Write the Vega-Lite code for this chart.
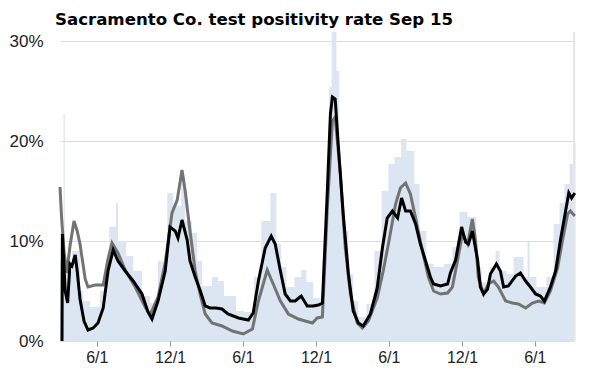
{
  "$schema": "https://vega.github.io/schema/vega-lite/v6.json",
  "autosize": {"type": "none"},
  "width": 514,
  "height": 300,
  "padding": {"left": 60, "top": 41, "right": 18, "bottom": 34},
  "background": "white",
  "title": {"text": "Sacramento Co. test positivity rate Sep 15", "anchor": "start", "frame": "group", "font": "DejaVu Sans", "fontSize": 16.6, "fontWeight": "bold", "color": "#000", "offset": 2, "dx": -5},
  "config": {"view": {"stroke": null}, "axis": {"labelFont": "Liberation Sans", "labelColor": "#222"}},
  "datasets": {
    "blue": [
      {"date": "2020-03-01", "v": 8}, {"date": "2020-03-10", "v": 22.7}, {"date": "2020-03-13", "v": 7}, {"date": "2020-03-31", "v": 9},
      {"date": "2020-04-20", "v": 5}, {"date": "2020-04-28", "v": 4}, {"date": "2020-05-15", "v": 3.4}, {"date": "2020-06-09", "v": 5},
      {"date": "2020-06-22", "v": 7.8}, {"date": "2020-07-02", "v": 11.4}, {"date": "2020-07-19", "v": 13.8}, {"date": "2020-07-24", "v": 10},
      {"date": "2020-08-13", "v": 8.5}, {"date": "2020-08-31", "v": 7}, {"date": "2020-09-22", "v": 4.5}, {"date": "2020-10-12", "v": 3.8},
      {"date": "2020-11-01", "v": 8}, {"date": "2020-11-24", "v": 14.8}, {"date": "2020-12-09", "v": 13.5}, {"date": "2020-12-29", "v": 16.4},
      {"date": "2021-01-08", "v": 12}, {"date": "2021-01-25", "v": 10.8}, {"date": "2021-02-07", "v": 8}, {"date": "2021-02-19", "v": 5.5},
      {"date": "2021-03-16", "v": 6.4}, {"date": "2021-03-31", "v": 6}, {"date": "2021-04-15", "v": 4.5}, {"date": "2021-05-15", "v": 3},
      {"date": "2021-06-04", "v": 2.9}, {"date": "2021-06-29", "v": 6.4}, {"date": "2021-07-17", "v": 12}, {"date": "2021-08-09", "v": 14.8},
      {"date": "2021-08-24", "v": 9.7}, {"date": "2021-09-05", "v": 7.4}, {"date": "2021-09-18", "v": 5.4}, {"date": "2021-10-08", "v": 6.4},
      {"date": "2021-10-25", "v": 7.1}, {"date": "2021-11-07", "v": 5.9}, {"date": "2021-11-24", "v": 4.3}, {"date": "2021-12-17", "v": 8},
      {"date": "2021-12-24", "v": 13.3}, {"date": "2022-01-03", "v": 25.4}, {"date": "2022-01-09", "v": 30.9}, {"date": "2022-01-21", "v": 27},
      {"date": "2022-01-28", "v": 16}, {"date": "2022-02-05", "v": 11}, {"date": "2022-02-20", "v": 6.7}, {"date": "2022-03-04", "v": 4},
      {"date": "2022-03-17", "v": 2.4}, {"date": "2022-04-06", "v": 3.7}, {"date": "2022-04-26", "v": 9}, {"date": "2022-05-14", "v": 15},
      {"date": "2022-05-31", "v": 17.7}, {"date": "2022-06-15", "v": 18.4}, {"date": "2022-07-02", "v": 20.2}, {"date": "2022-07-15", "v": 19},
      {"date": "2022-08-04", "v": 15.7}, {"date": "2022-08-17", "v": 11}, {"date": "2022-09-03", "v": 7.7}, {"date": "2022-09-21", "v": 7.4},
      {"date": "2022-10-16", "v": 7.7}, {"date": "2022-11-07", "v": 9.4}, {"date": "2022-11-25", "v": 12.9}, {"date": "2022-12-15", "v": 12.4},
      {"date": "2023-01-06", "v": 7.4}, {"date": "2023-01-19", "v": 5.9}, {"date": "2023-02-08", "v": 7.4}, {"date": "2023-02-23", "v": 9},
      {"date": "2023-03-05", "v": 7}, {"date": "2023-03-22", "v": 6.7}, {"date": "2023-04-09", "v": 8.4}, {"date": "2023-05-04", "v": 6.4},
      {"date": "2023-05-14", "v": 10}, {"date": "2023-05-19", "v": 6.4}, {"date": "2023-06-05", "v": 5.4}, {"date": "2023-06-30", "v": 6.4},
      {"date": "2023-07-18", "v": 11.7}, {"date": "2023-08-02", "v": 13.8}, {"date": "2023-08-14", "v": 15.7}, {"date": "2023-08-27", "v": 17.7},
      {"date": "2023-09-06", "v": 19.8}, {"date": "2023-09-11", "v": 19.8}
    ],
    "gray": [
      {"date": "2020-03-01", "v": 15.4}, {"date": "2020-03-05", "v": 12.3}, {"date": "2020-03-11", "v": 9}, {"date": "2020-03-18", "v": 6.8},
      {"date": "2020-03-26", "v": 9.5}, {"date": "2020-04-05", "v": 12}, {"date": "2020-04-13", "v": 11}, {"date": "2020-04-20", "v": 9.7},
      {"date": "2020-05-03", "v": 6.2}, {"date": "2020-05-10", "v": 5.4}, {"date": "2020-05-28", "v": 5.6}, {"date": "2020-06-17", "v": 5.6},
      {"date": "2020-06-29", "v": 8.2}, {"date": "2020-07-09", "v": 9.8}, {"date": "2020-07-24", "v": 8.8}, {"date": "2020-08-11", "v": 7.1},
      {"date": "2020-09-05", "v": 5.4}, {"date": "2020-09-30", "v": 3.4}, {"date": "2020-10-12", "v": 2.6}, {"date": "2020-11-01", "v": 4.4},
      {"date": "2020-11-19", "v": 7.8}, {"date": "2020-12-06", "v": 12.8}, {"date": "2020-12-19", "v": 14.1}, {"date": "2020-12-31", "v": 17.1},
      {"date": "2021-01-08", "v": 15}, {"date": "2021-01-20", "v": 11}, {"date": "2021-02-02", "v": 7}, {"date": "2021-02-14", "v": 4.7},
      {"date": "2021-02-27", "v": 2.7}, {"date": "2021-03-16", "v": 1.8}, {"date": "2021-04-10", "v": 1.5}, {"date": "2021-05-06", "v": 1},
      {"date": "2021-06-02", "v": 0.7}, {"date": "2021-06-25", "v": 1.2}, {"date": "2021-07-10", "v": 4}, {"date": "2021-08-01", "v": 7.1},
      {"date": "2021-08-16", "v": 5.7}, {"date": "2021-09-03", "v": 4}, {"date": "2021-09-23", "v": 2.7}, {"date": "2021-10-18", "v": 2.2},
      {"date": "2021-11-04", "v": 2}, {"date": "2021-11-22", "v": 1.8}, {"date": "2021-12-04", "v": 2.3}, {"date": "2021-12-17", "v": 2.4},
      {"date": "2021-12-29", "v": 13}, {"date": "2022-01-11", "v": 22}, {"date": "2022-01-18", "v": 22.4}, {"date": "2022-01-31", "v": 16.7},
      {"date": "2022-02-12", "v": 9.4}, {"date": "2022-02-25", "v": 4.7}, {"date": "2022-03-14", "v": 1.8}, {"date": "2022-03-27", "v": 1.3},
      {"date": "2022-04-11", "v": 2}, {"date": "2022-05-03", "v": 4.3}, {"date": "2022-05-18", "v": 7}, {"date": "2022-05-31", "v": 9.7},
      {"date": "2022-06-18", "v": 13.7}, {"date": "2022-06-30", "v": 15.3}, {"date": "2022-07-13", "v": 15.8}, {"date": "2022-07-25", "v": 14.7},
      {"date": "2022-08-07", "v": 12.3}, {"date": "2022-08-24", "v": 9}, {"date": "2022-09-08", "v": 6.4}, {"date": "2022-09-21", "v": 5},
      {"date": "2022-10-08", "v": 4.7}, {"date": "2022-10-26", "v": 4.8}, {"date": "2022-11-07", "v": 5.4}, {"date": "2022-11-20", "v": 8.1},
      {"date": "2022-12-02", "v": 10.7}, {"date": "2022-12-15", "v": 9.7}, {"date": "2022-12-27", "v": 12.2}, {"date": "2023-01-04", "v": 10},
      {"date": "2023-01-11", "v": 6.3}, {"date": "2023-01-24", "v": 4.7}, {"date": "2023-02-05", "v": 5.7}, {"date": "2023-02-18", "v": 6},
      {"date": "2023-03-02", "v": 5.4}, {"date": "2023-03-20", "v": 4}, {"date": "2023-04-06", "v": 3.8}, {"date": "2023-04-21", "v": 3.7},
      {"date": "2023-05-09", "v": 3.3}, {"date": "2023-05-26", "v": 3.8}, {"date": "2023-06-10", "v": 4}, {"date": "2023-06-25", "v": 3.8},
      {"date": "2023-07-10", "v": 5}, {"date": "2023-07-28", "v": 7.3}, {"date": "2023-08-09", "v": 10}, {"date": "2023-08-22", "v": 12.7},
      {"date": "2023-08-29", "v": 13}, {"date": "2023-09-09", "v": 12.5}
    ],
    "black": [
      {"date": "2020-03-06", "v": 0}, {"date": "2020-03-07", "v": 10.7}, {"date": "2020-03-14", "v": 5}, {"date": "2020-03-20", "v": 3.8},
      {"date": "2020-03-26", "v": 7.7}, {"date": "2020-03-31", "v": 7.5}, {"date": "2020-04-08", "v": 8.6}, {"date": "2020-04-13", "v": 7},
      {"date": "2020-04-20", "v": 4.2}, {"date": "2020-04-30", "v": 2}, {"date": "2020-05-10", "v": 1.1}, {"date": "2020-05-23", "v": 1.3},
      {"date": "2020-06-04", "v": 1.8}, {"date": "2020-06-17", "v": 3.3}, {"date": "2020-06-29", "v": 7}, {"date": "2020-07-12", "v": 9.1},
      {"date": "2020-07-24", "v": 8}, {"date": "2020-08-11", "v": 7}, {"date": "2020-08-31", "v": 6}, {"date": "2020-09-22", "v": 4.7},
      {"date": "2020-10-07", "v": 2.9}, {"date": "2020-10-17", "v": 2.2}, {"date": "2020-11-01", "v": 4}, {"date": "2020-11-19", "v": 7},
      {"date": "2020-12-01", "v": 11.4}, {"date": "2020-12-14", "v": 11}, {"date": "2020-12-21", "v": 10.3}, {"date": "2020-12-31", "v": 12.1},
      {"date": "2021-01-13", "v": 10.1}, {"date": "2021-01-20", "v": 8}, {"date": "2021-02-02", "v": 6.4}, {"date": "2021-02-14", "v": 5.1},
      {"date": "2021-02-27", "v": 3.5}, {"date": "2021-03-11", "v": 3.3}, {"date": "2021-03-26", "v": 3.3}, {"date": "2021-04-10", "v": 3.2},
      {"date": "2021-04-25", "v": 2.7}, {"date": "2021-05-21", "v": 2.3}, {"date": "2021-06-15", "v": 2.1}, {"date": "2021-06-27", "v": 2.8},
      {"date": "2021-07-10", "v": 6}, {"date": "2021-07-27", "v": 9.3}, {"date": "2021-08-11", "v": 10.5}, {"date": "2021-08-21", "v": 9.7},
      {"date": "2021-09-03", "v": 7}, {"date": "2021-09-15", "v": 4.7}, {"date": "2021-09-28", "v": 4}, {"date": "2021-10-10", "v": 4},
      {"date": "2021-10-25", "v": 4.5}, {"date": "2021-11-09", "v": 3.5}, {"date": "2021-11-24", "v": 3.5}, {"date": "2021-12-07", "v": 3.6},
      {"date": "2021-12-17", "v": 3.8}, {"date": "2021-12-29", "v": 14.7}, {"date": "2022-01-06", "v": 22.7}, {"date": "2022-01-11", "v": 24.4},
      {"date": "2022-01-18", "v": 24.2}, {"date": "2022-01-26", "v": 19.4}, {"date": "2022-02-07", "v": 12.7}, {"date": "2022-02-20", "v": 6.7},
      {"date": "2022-03-04", "v": 3}, {"date": "2022-03-17", "v": 1.8}, {"date": "2022-03-29", "v": 1.5}, {"date": "2022-04-16", "v": 2.7},
      {"date": "2022-05-03", "v": 5.3}, {"date": "2022-05-16", "v": 9.3}, {"date": "2022-05-28", "v": 12.3}, {"date": "2022-06-10", "v": 13},
      {"date": "2022-06-23", "v": 12.3}, {"date": "2022-07-03", "v": 14.3}, {"date": "2022-07-13", "v": 13}, {"date": "2022-07-25", "v": 13},
      {"date": "2022-08-07", "v": 11.7}, {"date": "2022-08-19", "v": 9.7}, {"date": "2022-09-01", "v": 8}, {"date": "2022-09-13", "v": 6.4},
      {"date": "2022-09-21", "v": 5.7}, {"date": "2022-10-08", "v": 5.5}, {"date": "2022-10-26", "v": 5.7}, {"date": "2022-11-02", "v": 6.8},
      {"date": "2022-11-15", "v": 8.1}, {"date": "2022-11-30", "v": 11.4}, {"date": "2022-12-10", "v": 9.9}, {"date": "2022-12-17", "v": 9.7},
      {"date": "2022-12-27", "v": 11}, {"date": "2023-01-09", "v": 8.1}, {"date": "2023-01-16", "v": 5.4}, {"date": "2023-01-24", "v": 4.7},
      {"date": "2023-02-03", "v": 5.2}, {"date": "2023-02-10", "v": 6.7}, {"date": "2023-02-25", "v": 7.7}, {"date": "2023-03-07", "v": 7},
      {"date": "2023-03-15", "v": 5.4}, {"date": "2023-03-27", "v": 5.5}, {"date": "2023-04-14", "v": 6.5}, {"date": "2023-04-26", "v": 6.8},
      {"date": "2023-05-09", "v": 6}, {"date": "2023-05-21", "v": 5.4}, {"date": "2023-06-03", "v": 4.7}, {"date": "2023-06-15", "v": 4.5},
      {"date": "2023-06-25", "v": 4}, {"date": "2023-07-10", "v": 5.4}, {"date": "2023-07-23", "v": 7}, {"date": "2023-08-05", "v": 10.3},
      {"date": "2023-08-17", "v": 13}, {"date": "2023-08-25", "v": 14.8}, {"date": "2023-09-01", "v": 14.3}, {"date": "2023-09-09", "v": 14.8}
    ],
    "edge": [{"date": "2023-09-07", "lo": 0, "hi": 30.9}]
  },
  "encoding": {
    "x": {
      "field": "date", "type": "temporal",
      "scale": {"type": "utc", "domain": [{"year": 2020, "month": 3, "date": 1, "utc": true}, {"year": 2023, "month": 9, "date": 7, "utc": true}]},
      "axis": {
        "title": null, "domain": false, "grid": false,
        "labelExpr": "utcFormat(datum.value, '%-m/%-d')",
        "values": [
          {"year": 2020, "month": 6, "date": 1, "utc": true}, {"year": 2020, "month": 12, "date": 1, "utc": true},
          {"year": 2021, "month": 6, "date": 1, "utc": true}, {"year": 2021, "month": 12, "date": 1, "utc": true},
          {"year": 2022, "month": 6, "date": 1, "utc": true}, {"year": 2022, "month": 12, "date": 1, "utc": true},
          {"year": 2023, "month": 6, "date": 1, "utc": true}
        ],
        "tickSize": 5, "tickColor": "#999", "labelFontSize": 16, "labelPadding": 3
      }
    }
  },
  "layer": [
    {
      "data": {"name": "blue"},
      "mark": {"type": "area", "interpolate": "step-after", "color": "#dbe6f2"},
      "encoding": {
        "y": {"field": "v", "type": "quantitative", "scale": {"domain": [0, 30]},
          "axis": {"title": null, "domain": false, "ticks": false, "grid": true, "gridColor": "#dcdcdc", "values": [0, 10, 20, 30], "labelExpr": "datum.value + '%'", "labelFontSize": 17, "labelPadding": 17}}
      }
    },
    {
      "data": {"name": "edge"},
      "mark": {"type": "rule", "color": "#e6e6e6", "strokeWidth": 2},
      "encoding": {"y": {"field": "lo", "type": "quantitative"}, "y2": {"field": "hi"}}
    },
    {
      "data": {"name": "gray"},
      "mark": {"type": "line", "color": "#737373", "strokeWidth": 3},
      "encoding": {"y": {"field": "v", "type": "quantitative"}}
    },
    {
      "data": {"name": "black"},
      "mark": {"type": "line", "color": "#000000", "strokeWidth": 3},
      "encoding": {"y": {"field": "v", "type": "quantitative"}}
    }
  ]
}
